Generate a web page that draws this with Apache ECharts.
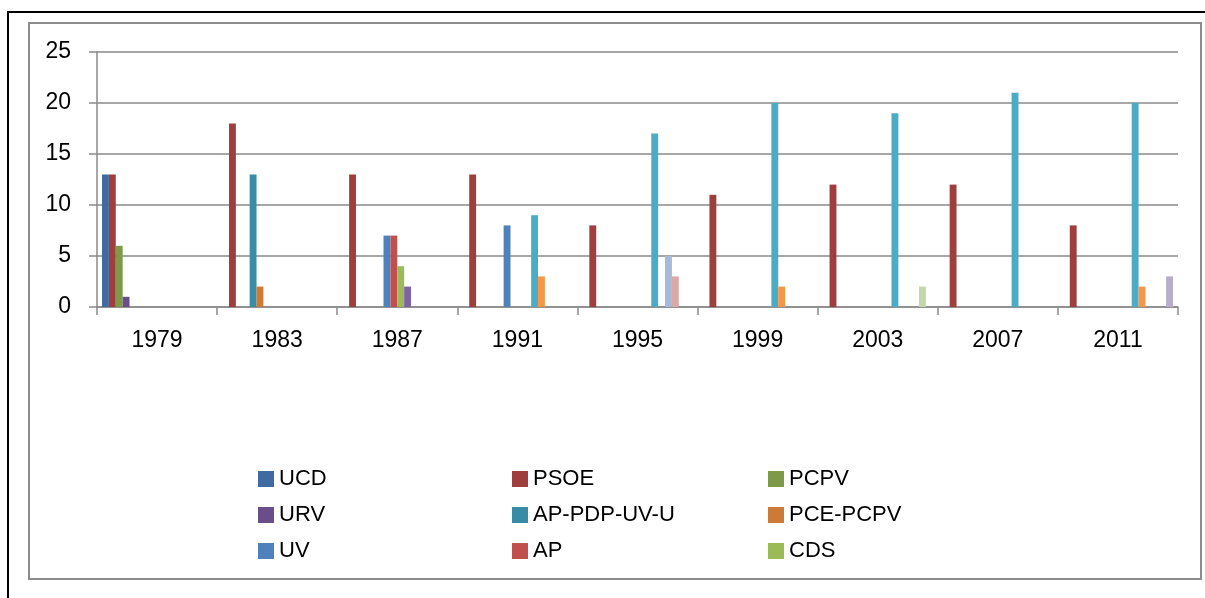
<!DOCTYPE html>
<html>
<head>
<meta charset="utf-8">
<script src="https://cdn.jsdelivr.net/npm/echarts@6/dist/echarts.min.js"></script>
<style>
  html, body { margin: 0; padding: 0; background: #fff; }
  #chart { width: 1205px; height: 598px; }
</style>
</head>
<body>
<div id="chart"></div>
<script>
// years on the x axis
var years = ['1979', '1983', '1987', '1991', '1995', '1999', '2003', '2007', '2011'];

// seats per party and year (null = no bar)
var ucd      = [13, null, null, null, null, null, null, null, null];
var psoe     = [13, 18, 13, 13, 8, 11, 12, 12, 8];
var pcpv     = [6, null, null, null, null, null, null, null, null];
var urv      = [1, null, null, null, null, null, null, null, null];
var apPdp    = [null, 13, null, null, null, null, null, null, null];
var pcePcpv  = [null, 2, null, null, null, null, null, null, null];
var uv       = [null, null, 7, 8, null, null, null, null, null];
var ap       = [null, null, 7, null, null, null, null, null, null];
var cds      = [null, null, 4, null, null, null, null, null, null];
var iu       = [null, null, 2, null, null, null, null, null, null];
var pp       = [null, null, null, 9, 17, 20, 19, 21, 20];
var eu       = [null, null, null, 3, null, 2, null, null, 2];
var euUpv    = [null, null, null, null, 5, null, null, null, null];
var uvFev    = [null, null, null, null, 3, null, null, null, null];
var entesa   = [null, null, null, null, null, null, 2, null, null];
var compromis = [null, null, null, null, null, null, null, null, 3];

var seriesNames = ['UCD', 'PSOE', 'PCPV', 'URV', 'AP-PDP-UV-U', 'PCE-PCPV', 'UV', 'AP', 'CDS',
  'IU', 'PP', 'EU', 'EU-UPV', 'UV-FEV', 'Entesa', 'Compromís'];
var seriesData = [ucd, psoe, pcpv, urv, apPdp, pcePcpv, uv, ap, cds,
  iu, pp, eu, euUpv, uvFev, entesa, compromis];
var colors = ['#3F6BA0', '#9E3F3D', '#7E9A48', '#6A4E8A', '#398CA5', '#CC7A36', '#4F81BD', '#C0504D', '#9BBB59',
  '#8064A2', '#4BACC6', '#F79646', '#A8B8D8', '#D9A8A7', '#C4D7A6', '#B8AECC'];

var font = 'Liberation Sans, Arial, sans-serif';
var gridColor = '#8a8a8a';

var series = seriesData.map(function (d, i) {
  return {
    name: seriesNames[i],
    type: 'bar',
    data: d,
    barGap: 0,
    barCategoryGap: '8.33%',
    itemStyle: { color: colors[i] }
  };
});

function legendCol(names, left) {
  return {
    orient: 'vertical',
    left: left,
    top: 463,
    itemWidth: 16,
    itemHeight: 16,
    itemGap: 14,
    icon: 'rect',
    selectedMode: false,
    textStyle: { fontFamily: font, fontSize: 22, color: '#000' },
    data: names
  };
}

var chart = echarts.init(document.getElementById('chart'));
chart.setOption({
  animation: false,
  color: colors,
  grid: { left: 97, right: 27, top: 52, bottom: 291, containLabel: false },
  graphic: [
    { type: 'rect', shape: { x: 8, y: 12, width: 1300, height: 700 },
      style: { fill: 'none', stroke: '#000', lineWidth: 2 }, silent: true },
    { type: 'rect', shape: { x: 29, y: 23, width: 1172, height: 556 },
      style: { fill: 'none', stroke: '#8c8c8c', lineWidth: 2 }, silent: true }
  ],
  legend: [
    legendCol(['UCD', 'URV', 'UV'], 253),
    legendCol(['PSOE', 'AP-PDP-UV-U', 'AP'], 507),
    legendCol(['PCPV', 'PCE-PCPV', 'CDS'], 763)
  ],
  xAxis: {
    type: 'category',
    data: years,
    axisLine: { lineStyle: { color: gridColor, width: 1.5 } },
    axisTick: { show: true, length: 8, lineStyle: { color: gridColor, width: 1.5 } },
    axisLabel: { fontFamily: font, fontSize: 23, color: '#000', margin: 22 }
  },
  yAxis: {
    type: 'value',
    min: 0,
    max: 25,
    interval: 5,
    axisLine: { show: true, lineStyle: { color: gridColor, width: 1.5 } },
    axisTick: { show: true, length: 8, lineStyle: { color: gridColor, width: 1.5 } },
    splitLine: { lineStyle: { color: gridColor, width: 1.5 } },
    axisLabel: { fontFamily: font, fontSize: 23, color: '#000', margin: 26 }
  },
  series: series
});
</script>
</body>
</html>
